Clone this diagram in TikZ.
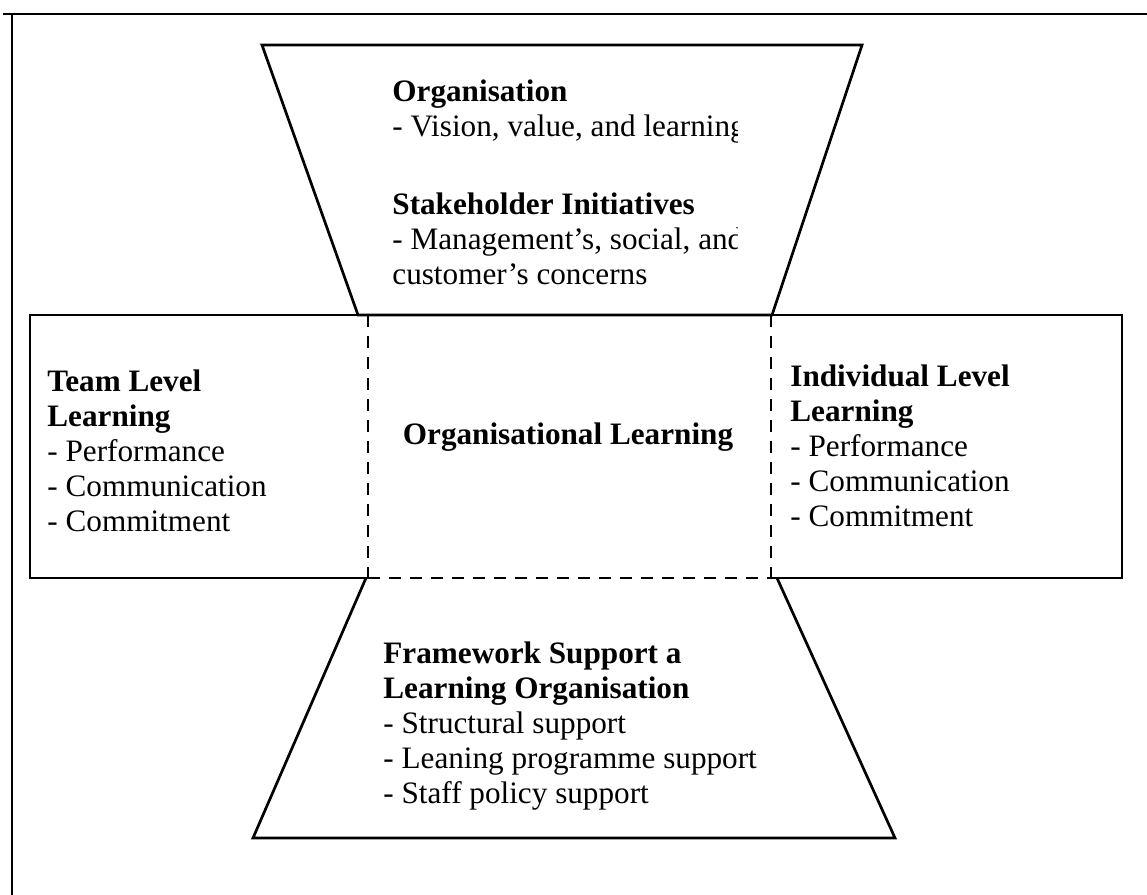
\documentclass[tikz,border=0pt]{standalone}
\usepackage{fontspec}
\setmainfont{Liberation Serif}
\usetikzlibrary{positioning}

\tikzset{
  block/.style={anchor=north west,inner sep=0pt,align=left,
    font=\fontsize{15.6}{17.5}\selectfont},
  solidline/.style={line width=1.35pt,line join=miter},
  dashline/.style={line width=1.35pt,dash pattern=on 6pt off 4.5pt}
}

\begin{document}
\begin{tikzpicture}[x=0.5pt,y=-0.5pt]
\useasboundingbox (0,0) rectangle (1147,895);
% outer frame (top and left only)
\draw[line width=1pt] (1147,14) -- (3,14);
\draw[line width=1pt] (12,14) -- (12,895);
% top funnel
\draw[solidline] (262,45) -- (862,45) -- (772,315) -- (358,315) -- cycle;
% middle band
\draw[solidline] (368,315) -- (30,315) -- (30,578) -- (368,578);
\draw[solidline] (771,315) -- (1122,315) -- (1122,578) -- (771,578);
\draw[solidline] (358,315) -- (772,315);
\draw[dashline] (368,578) -- (771,578);
\draw[dashline] (368,315) -- (368,578);
\draw[dashline] (771,315) -- (771,578);
% bottom funnel
\draw[solidline] (366,578) -- (253,838) -- (895,838) -- (777,578);
% texts
\begin{scope}
\clip (0,0) rectangle (737,895);
\node[block] (org) at (392,79) {\textbf{Organisation}\\- Vision, value, and learning};
\node[block] (stake) at (392,192) {\textbf{Stakeholder Initiatives}\\- Management's, social, and\\customer's concerns};
\end{scope}
\node[block] (team) at (47,369) {\textbf{Team Level}\\\textbf{Learning}\\- Performance\\- Communication\\- Commitment};
\node[block,anchor=center] (orglearn) at (568,437) {\textbf{Organisational Learning}};
\node[block] (indiv) at (790,364) {\textbf{Individual Level}\\\textbf{Learning}\\- Performance\\- Communication\\- Commitment};
\node[block] (frame) at (383,641) {\textbf{Framework Support a}\\\textbf{Learning Organisation}\\- Structural support\\- Leaning programme support\\- Staff policy support};
\end{tikzpicture}
\end{document}
